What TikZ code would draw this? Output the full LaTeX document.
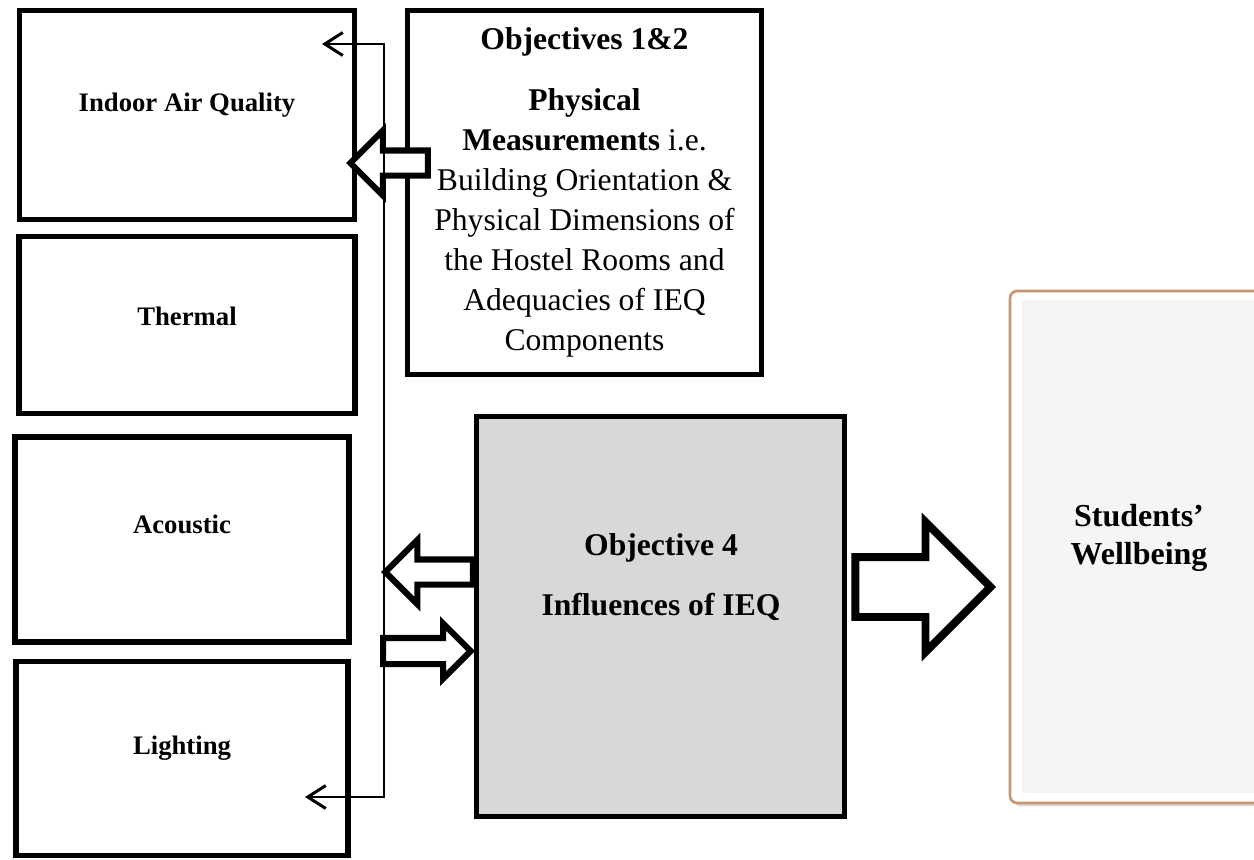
\documentclass[tikz,border=0pt]{standalone}
\usepackage{fontspec}
\setmainfont{Liberation Serif}
\usetikzlibrary{shapes.arrows}
\usetikzlibrary{positioning}
\usetikzlibrary{shadows}
\usetikzlibrary{arrows.meta}
\definecolor{framebrown}{RGB}{200,150,115}
\definecolor{objgray}{RGB}{216,216,216}
\definecolor{panelgray}{RGB}{245,245,245}

\begin{document}
\begin{tikzpicture}[x=0.02cm, y=-0.02cm,
            box/.style = {draw, line width=3pt, align=center, text depth=0.5cm,
                font=\bfseries\fontsize{15.2}{18}\selectfont},
            fatarrow/.style = {draw, line width=3.5pt, fill=white,
                single arrow, inner xsep=0pt, minimum width=0pt},
            spine/.style = {line width=1.2pt},
            barb/.tip = {Straight Barb[length=3.6mm, width=4.6mm, line width=1.7pt]},
            bigtext/.style = {align=center, font=\fontsize{18}{22.7}\selectfont}]
            \useasboundingbox (0,0) rectangle (1254,859);
            % left column
            \node[box, minimum width=6.7cm, minimum height=4.18cm] (iaq) at (187,115) {Indoor Air Quality};
            \node[box, text depth=0.36cm, minimum width=6.72cm, minimum height=3.54cm, below=0.24cm of iaq] (thermal) {Thermal};
            \node[box, text depth=0.6cm, minimum width=6.68cm, minimum height=4.1cm, below=0.36cm of thermal, xshift=-0.1cm] (acoustic) {Acoustic};
            \node[box, minimum width=6.64cm, minimum height=3.88cm, below=0.28cm of acoustic] (lighting) {Lighting};
            % objectives
            \node[box, bigtext, text depth=, font=\fontsize{18}{22.7}\selectfont, minimum width=7.08cm, minimum height=7.28cm] (obj12) at (584.5,192.5)
                {\textbf{Objectives 1\&2}\\[12pt]
                 \textbf{Physical}\\
                 \textbf{Measurements} i.e.\\
                 Building Orientation \&\\
                 Physical Dimensions of\\
                 the Hostel Rooms and\\
                 Adequacies of IEQ\\
                 Components};
            \node[box, fill=objgray, minimum width=7.36cm, minimum height=8cm] (obj4) at (660.5,616.5) {};
            \node[bigtext, font=\bfseries\fontsize{18}{22.7}\selectfont] (obj4txt) at (661,577)
                {Objective 4\\[11pt]Influences of IEQ};
            % wellbeing panel
            \node[draw=framebrown, line width=1.5pt, fill=white, rounded corners=4pt,
                drop shadow={opacity=0.3, shadow xshift=2pt, shadow yshift=-2pt},
                minimum width=5.2cm, minimum height=10.24cm] (wb) at (1140,547) {};
            \node[fill=panelgray, minimum width=4.9cm, minimum height=9.86cm] (wbpanel) at (1144,546.5) {};
            \node[bigtext, font=\bfseries\fontsize{18.2}{22}\selectfont] (wbtxt) at (1139,538)
                {Students’\\Wellbeing};
            % block arrows
            \node[fatarrow, shape border rotate=180, anchor=tip, minimum height=1.55cm,
                single arrow head extend=0.4cm, inner ysep=0.19cm] (aiaq) at (346,163) {};
            \node[fatarrow, shape border rotate=180, anchor=tip, minimum height=1.75cm,
                single arrow head extend=0.39cm, inner ysep=0.19cm] (aacoustic) at (381,572) {};
            \node[fatarrow, anchor=tip, minimum height=1.75cm,
                single arrow head extend=0.29cm, inner ysep=0.2cm] (alight) at (475,651) {};
            \node[fatarrow, line width=4.5pt, anchor=tip, minimum height=2.7cm,
                single arrow head extend=0.7cm, inner ysep=0.52cm] (abig) at (996,587) {};
            % thin connector
            \coordinate (spinetop) at (384,44);
            \coordinate (spinebot) at (384,797);
            \coordinate (iaqtip) at (322,44);
            \coordinate (lighttip) at (305,797);
            \draw[spine, barb-barb] (iaqtip) -- (spinetop) -- (spinebot) -- (lighttip);
        \end{tikzpicture}
\end{document}
